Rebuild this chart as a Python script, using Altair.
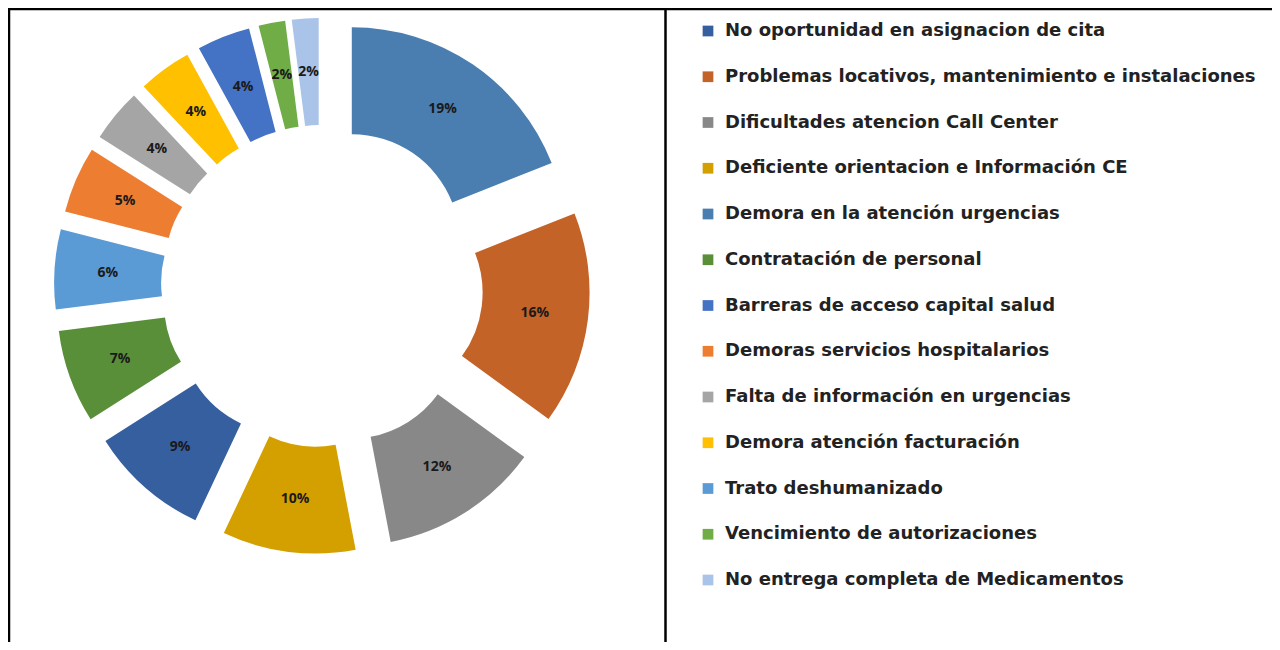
import altair as alt
import pandas as pd

# Slices, clockwise from 12 o'clock
slice_categories = [
    "Demora en la atención urgencias",
    "Problemas locativos, mantenimiento e instalaciones",
    "Dificultades atencion Call Center",
    "Deficiente orientacion e Información CE",
    "No oportunidad en asignacion de cita",
    "Contratación de personal",
    "Trato deshumanizado",
    "Demoras servicios hospitalarios",
    "Falta de información en urgencias",
    "Demora atención facturación",
    "Barreras de acceso capital salud",
    "Vencimiento de autorizaciones",
    "No entrega completa de Medicamentos",
]
slice_values = [19, 16, 12, 10, 9, 7, 6, 5, 4, 4, 4, 2, 2]

# Legend order and colours
legend_categories = [
    "No oportunidad en asignacion de cita",
    "Problemas locativos, mantenimiento e instalaciones",
    "Dificultades atencion Call Center",
    "Deficiente orientacion e Información CE",
    "Demora en la atención urgencias",
    "Contratación de personal",
    "Barreras de acceso capital salud",
    "Demoras servicios hospitalarios",
    "Falta de información en urgencias",
    "Demora atención facturación",
    "Trato deshumanizado",
    "Vencimiento de autorizaciones",
    "No entrega completa de Medicamentos",
]
legend_colors = [
    "#365FA0", "#C46328", "#888888", "#D4A000", "#4A7EB0", "#5A8F3A",
    "#4472C4", "#ED7D31", "#A5A5A5", "#FFC000", "#5B9BD5", "#70AD47", "#A9C4E8",
]

df = pd.DataFrame({
    "category": slice_categories,
    "value": slice_values,
    "order": list(range(len(slice_values))),
})

W, H = 1264, 634
CX, CY = 314, 278      # donut centre (px)
EXPL = 53              # explosion offset (px)
R_OUT, R_IN = 215, 108

base = alt.Chart(df).transform_window(
    cum="sum(value)", sort=[alt.SortField("order")]
).transform_joinaggregate(
    total="sum(value)"
).transform_calculate(
    mid="2*PI*(datum.cum - datum.value/2)/datum.total",
    label="datum.value + '%'",
).transform_calculate(
    ex="sin(datum.mid)",
    ey="cos(datum.mid)",
).encode(
    theta=alt.Theta("value:Q", stack=True),
    order=alt.Order("order:Q"),
    x=alt.X("ex:Q", axis=None, scale=alt.Scale(domain=[-1, 1], range=[CX - EXPL, CX + EXPL])),
    y=alt.Y("ey:Q", axis=None, scale=alt.Scale(domain=[-1, 1], range=[CY + EXPL, CY - EXPL])),
)

arcs = base.mark_arc(outerRadius=R_OUT, innerRadius=R_IN, stroke=None).encode(
    color=alt.Color(
        "category:N",
        scale=alt.Scale(domain=legend_categories, range=legend_colors),
        legend=alt.Legend(
            orient="none", legendX=691, legendY=14, title=None,
            symbolType="square", symbolSize=115, symbolStrokeWidth=0,
            labelFont="DejaVu Sans", labelFontWeight="bold", labelFontSize=18,
            labelColor="#222222", labelLimit=700, rowPadding=27.75,
            labelOffset=8, padding=0,
        ),
    )
)

labels = base.mark_text(
    radius=(R_OUT + R_IN) / 2, font="Open Sans", fontWeight="bold",
    fontSize=14, color="#1a1a1a",
).encode(text="label:N")

frame_df = pd.DataFrame({"k": [0]})
top_line = alt.Chart(frame_df).mark_rule(color="black", strokeWidth=2.5).encode(
    x=alt.value(0), x2=alt.value(W), y=alt.value(1)
)
left_line = alt.Chart(frame_df).mark_rule(color="black", strokeWidth=2.5).encode(
    x=alt.value(1), y=alt.value(0), y2=alt.value(H)
)
mid_line = alt.Chart(frame_df).mark_rule(color="black", strokeWidth=2.5).encode(
    x=alt.value(657.5), y=alt.value(0), y2=alt.value(H)
)

chart = alt.layer(arcs, labels, top_line, left_line, mid_line).properties(
    width=W, height=H, autosize=alt.AutoSizeParams(type="none"), padding=0,
).configure_view(strokeWidth=0)

chart.save("out.html", embed_options={"renderer": "svg", "actions": False})
